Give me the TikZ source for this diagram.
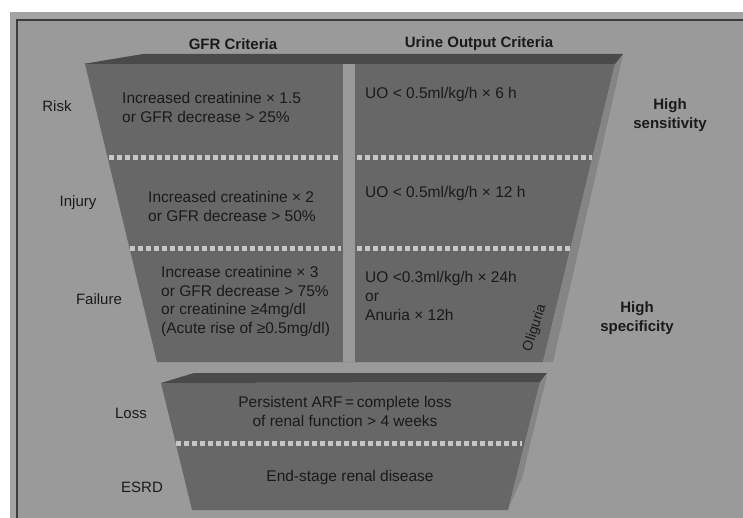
\documentclass[tikz,border=0pt]{standalone}
\usepackage{fontspec}
\setmainfont{Liberation Sans}
\definecolor{bg}{HTML}{9A9A9A}
\definecolor{outerbg}{HTML}{A4A4A4}
\definecolor{framec}{HTML}{3C3C3C}
\definecolor{bodyc}{HTML}{676767}
\definecolor{topc}{HTML}{4A4A4A}
\definecolor{sidec}{HTML}{858585}
\definecolor{dotc}{HTML}{C6C6C6}
\definecolor{ink}{HTML}{1A1A1A}
\begin{document}
\begin{tikzpicture}[x=1pt,y=-1pt,
  txt/.style={inner sep=0pt, text=ink, font=\fontsize{15.5}{19}\selectfont, align=left},
  ctxt/.style={inner sep=0pt, text=ink, font=\fontsize{15.5}{19}\selectfont, align=center},
  lbl/.style={inner sep=0pt, text=ink, font=\fontsize{15}{19}\selectfont},
  hdr/.style={inner sep=0pt, text=ink, font=\bfseries\fontsize{15}{19}\selectfont, align=center},
  dotline/.style={draw=dotc, line width=5pt, dash pattern=on 5pt off 3pt}]
\useasboundingbox (0,0) rectangle (743,518);
\fill[white] (0,0) rectangle (743,518);
\fill[outerbg] (10,12) rectangle (743,518);
\fill[bg] (17,20) rectangle (743,518);
\draw[framec, line width=1.6pt] (17,518) -- (17,20) -- (743,20);
% upper funnel
\fill[bodyc] (85,64) -- (615,64) -- (543,362) -- (157,362) -- cycle;
\fill[sidec] (623,55) -- (615,64) -- (543,362) -- (553,362) -- cycle;
\fill[topc] (83,64) -- (143,54) -- (623,54) -- (615,64) -- cycle;
\fill[bg] (343,64) rectangle (355,362);
\draw[dotline] (109,157.5) -- (341,157.5);
\draw[dotline] (357,157.5) -- (592,157.5);
\draw[dotline] (130,249) -- (341,249);
\draw[dotline] (357,249) -- (570,249);
% lower funnel
\fill[bodyc] (161,383) -- (540,382) -- (508,510) -- (192,510) -- cycle;
\fill[sidec] (547,375) -- (540,382) -- (509,507) -- (522,478) -- cycle;
\fill[topc] (161,383) -- (194,373) -- (547,373) -- (540,382) -- cycle;
\draw[dotline] (176,443) -- (522,443);
% headers
\node[hdr] (gfrh) at (233,44) {GFR Criteria};
\node[hdr] (uoh) at (479,44) {Urine Output Criteria};
% left labels
\node[lbl] (risk) at (57,106) {Risk};
\node[lbl] (injury) at (78,203) {Injury};
\node[lbl] (failure) at (99,299) {Failure};
\node[lbl] (loss) at (131,413) {Loss};
\node[lbl] (esrd) at (142,487) {ESRD};
% right labels
\node[hdr] (hsens) at (670,115) {High\\sensitivity};
\node[hdr] (hspec) at (637,318) {High\\specificity};
% GFR texts
\node[txt, anchor=north west] (g1) at (122,92) {Increased creatinine × 1.5\\or GFR decrease > 25\%};
\node[txt, anchor=north west] (g2) at (148,191) {Increased creatinine × 2\\or GFR decrease > 50\%};
\node[txt, anchor=north west, font=\fontsize{15.5}{18.7}\selectfont] (g3) at (161,266) {Increase creatinine × 3\\or GFR decrease > 75\%\\or creatinine ≥4mg/dl\\(Acute rise of ≥0.5mg/dl)};
% UO texts
\node[txt, anchor=north west] (u1) at (365,87) {UO < 0.5ml/kg/h × 6 h};
\node[txt, anchor=north west] (u2) at (365,186) {UO < 0.5ml/kg/h × 12 h};
\node[txt, anchor=north west] (u3) at (365,271) {UO <0.3ml/kg/h × 24h\\or\\Anuria × 12h};
\node[lbl, rotate=72, font=\fontsize{14}{17}\selectfont] (olig) at (535,328) {Oliguria};
% lower texts
\node[ctxt] (lossT) at (345,411) {Persistent ARF\,=\,complete loss\\of renal function > 4 weeks};
\node[ctxt] (esrdT) at (350,477) {End-stage renal disease};
\end{tikzpicture}
\end{document}
